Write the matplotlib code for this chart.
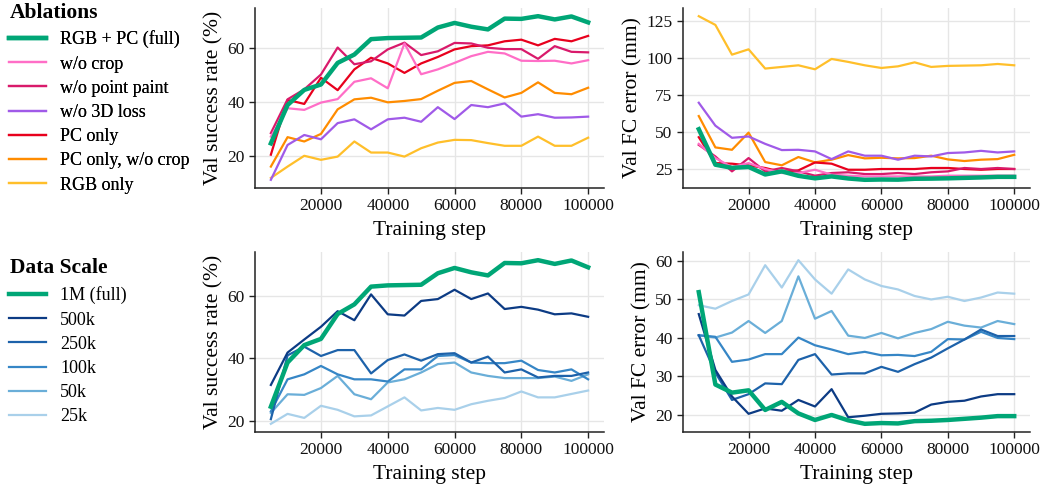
import matplotlib
matplotlib.use("Agg")
import matplotlib.pyplot as plt
from matplotlib.lines import Line2D

plt.rcParams['font.family'] = ['Liberation Serif', 'DejaVu Serif']

steps = [5000, 10000, 15000, 20000, 25000, 30000, 35000, 40000, 45000, 50000,
         55000, 60000, 65000, 70000, 75000, 80000, 85000, 90000, 95000, 100000]

# ---- Ablations: success rate (%) ----
sr_full = [24.5, 38.7, 44.3, 46.3, 54.3, 57.4, 63.1, 63.5, 63.6, 63.7, 67.4, 69.1, 67.7, 66.7, 70.7, 70.6, 71.6, 70.4, 71.5, 69.3]
sr_wo_crop = [27.0, 37.5, 36.9, 39.6, 40.9, 47.3, 48.6, 44.9, 61.5, 50.1, 51.9, 54.3, 56.8, 58.4, 57.8, 55.1, 55.0, 55.1, 54.1, 55.3]
sr_wo_pp = [28.3, 40.8, 44.5, 50.0, 60.0, 53.8, 54.9, 59.3, 61.8, 57.2, 58.6, 61.7, 61.5, 59.9, 59.4, 59.4, 55.8, 60.5, 58.4, 58.2]
sr_wo_3d = [11.0, 23.9, 27.6, 26.0, 32.0, 33.4, 29.7, 33.4, 34.0, 32.5, 37.9, 33.5, 38.7, 37.9, 39.3, 34.4, 35.3, 34.0, 34.1, 34.4]
sr_pc_only = [20.3, 40.6, 39.1, 48.8, 44.2, 51.9, 56.2, 54.1, 50.6, 54.1, 56.5, 59.3, 60.5, 60.8, 62.3, 62.9, 60.8, 63.2, 62.3, 64.3]
sr_pc_wo_crop = [15.9, 26.8, 25.2, 28.0, 37.1, 40.8, 41.4, 39.7, 40.2, 40.9, 44.0, 46.9, 47.6, 44.5, 41.5, 43.2, 47.1, 43.2, 42.7, 45.1]
sr_rgb_only = [11.7, 15.9, 19.9, 18.4, 19.6, 25.2, 21.1, 21.1, 19.6, 22.7, 24.8, 25.8, 25.7, 24.6, 23.6, 23.6, 27.0, 23.6, 23.6, 26.6]

# ---- Ablations: FC error (mm) ----
fc_full = [51.9, 27.9, 25.8, 26.4, 21.3, 23.4, 20.4, 18.7, 20.0, 18.6, 17.7, 17.9, 17.8, 18.4, 18.5, 18.7, 19.0, 19.3, 19.7, 19.7]
fc_wo_crop = [42.0, 32.4, 26.3, 29.0, 25.0, 22.3, 22.3, 24.5, 21.2, 20.5, 20.0, 20.0, 20.0, 20.0, 20.0, 20.5, 20.5, 20.5, 20.5, 20.5]
fc_wo_pp = [41.3, 33.5, 23.4, 32.4, 23.4, 25.7, 23.4, 20.5, 22.3, 22.8, 21.6, 21.6, 22.3, 21.6, 22.8, 23.4, 25.7, 25.0, 25.7, 25.0]
fc_wo_3d = [69.8, 54.3, 46.1, 47.0, 42.0, 37.8, 38.0, 36.9, 31.7, 36.9, 34.0, 34.0, 31.3, 34.0, 33.5, 35.8, 36.2, 37.3, 36.2, 36.9]
fc_pc_only = [46.5, 29.0, 28.6, 27.4, 25.7, 23.0, 24.1, 29.4, 28.6, 24.5, 24.5, 25.0, 25.0, 25.0, 25.7, 25.7, 25.0, 24.5, 25.0, 25.0]
fc_pc_wo_crop = [60.8, 39.6, 38.0, 49.6, 29.7, 27.5, 33.1, 29.5, 31.3, 34.4, 32.2, 32.6, 32.2, 32.4, 34.0, 31.5, 30.4, 31.3, 31.7, 34.6]
fc_rgb_only = [128.3, 122.4, 102.3, 105.9, 92.9, 94.0, 95.1, 92.4, 99.4, 97.4, 95.1, 93.3, 94.4, 97.1, 94.0, 94.7, 94.9, 95.1, 96.0, 95.1]

# ---- Data scale: success rate (%) ----
sr_500k = [31.5, 41.9, 46.1, 50.2, 55.2, 52.3, 60.6, 54.2, 53.8, 58.5, 59.1, 62.1, 59.1, 60.9, 55.9, 56.6, 55.7, 54.2, 54.5, 53.4]
sr_250k = [20.5, 41.0, 43.8, 40.8, 42.7, 42.7, 35.2, 39.5, 41.3, 39.3, 41.4, 41.7, 38.7, 40.6, 35.5, 36.5, 33.9, 34.4, 34.4, 35.5]
sr_100k = [23.0, 33.3, 34.9, 37.6, 34.9, 33.3, 33.3, 32.6, 36.5, 36.5, 40.8, 41.1, 38.7, 38.5, 38.5, 39.3, 36.3, 35.5, 36.5, 33.3]
sr_50k = [22.5, 28.5, 28.3, 30.5, 34.4, 28.5, 26.9, 32.3, 33.3, 35.5, 38.2, 38.7, 35.5, 34.4, 33.7, 33.7, 33.7, 34.2, 32.8, 34.9]
sr_25k = [19.0, 22.2, 20.9, 24.8, 23.5, 21.4, 21.7, 24.6, 27.5, 23.3, 24.1, 23.5, 25.3, 26.4, 27.3, 29.4, 27.5, 27.5, 28.6, 29.7]

# ---- Data scale: FC error (mm) ----
fc_500k = [46.2, 31.7, 24.8, 20.3, 21.7, 21.1, 23.9, 22.2, 26.7, 19.4, 19.8, 20.3, 20.4, 20.6, 22.7, 23.4, 23.7, 24.8, 25.4, 25.4]
fc_250k = [40.7, 31.0, 23.9, 25.4, 28.2, 28.0, 34.3, 35.8, 30.5, 30.8, 30.8, 32.5, 31.2, 33.2, 34.9, 37.3, 39.6, 42.2, 40.5, 40.5]
fc_100k = [40.7, 40.3, 33.8, 34.4, 35.8, 35.8, 40.1, 38.1, 37.0, 35.8, 36.4, 35.5, 35.6, 35.3, 36.4, 39.7, 39.6, 41.6, 40.0, 39.7]
fc_50k = [40.7, 40.1, 41.4, 44.4, 41.3, 44.4, 56.0, 45.0, 47.0, 40.6, 40.0, 41.3, 39.9, 41.3, 42.3, 44.2, 43.2, 42.7, 44.4, 43.6]
fc_25k = [48.5, 47.6, 49.6, 51.3, 58.9, 53.1, 60.2, 55.2, 51.5, 57.8, 55.2, 53.5, 52.6, 50.9, 50.0, 50.7, 49.6, 50.5, 51.8, 51.5]

abl_labels = ["RGB + PC (full)", "w/o crop", "w/o point paint", "w/o 3D loss",
              "PC only", "PC only, w/o crop", "RGB only"]
abl_colors = ["#00a676", "#ff6ec7", "#d91a6b", "#a05ae8", "#e8001d", "#ff8c00", "#ffbf2a"]
scale_labels = ["1M (full)", "500k", "250k", "100k", "50k", "25k"]
scale_colors = ["#00a676", "#0c3b84", "#1d62aa", "#3686c6", "#6aaed8", "#a9d0ea"]

abl_sr = [sr_full, sr_wo_crop, sr_wo_pp, sr_wo_3d, sr_pc_only, sr_pc_wo_crop, sr_rgb_only]
abl_fc = [fc_full, fc_wo_crop, fc_wo_pp, fc_wo_3d, fc_pc_only, fc_pc_wo_crop, fc_rgb_only]
scl_sr = [sr_full, sr_500k, sr_250k, sr_100k, sr_50k, sr_25k]
scl_fc = [fc_full, fc_500k, fc_250k, fc_100k, fc_50k, fc_25k]

fig = plt.figure(figsize=(10.44, 4.84), dpi=100)
W, H = 1044, 484

def mkax(l, t, r, b):
    return fig.add_axes([l / W, 1 - b / H, (r - l) / W, (b - t) / H])

ax_tl = mkax(255, 8, 604, 188)
ax_tr = mkax(683, 8, 1030, 188)
ax_bl = mkax(255, 252, 604, 432)
ax_br = mkax(683, 252, 1030, 432)

def style(ax, ylabel, yticks):
    ax.grid(True, color="#e6e6e6", linewidth=1.0)
    ax.set_axisbelow(True)
    for s in ["top", "right"]:
        ax.spines[s].set_visible(False)
    for s in ["left", "bottom"]:
        ax.spines[s].set_color("#222222")
        ax.spines[s].set_linewidth(1.1)
    ax.tick_params(axis="both", direction="out", length=4, width=1.0,
                   labelsize=12.5, colors="#222222", labelcolor="#111111")
    ax.set_xticks([20000, 40000, 60000, 80000, 100000])
    ax.set_yticks(yticks)
    ax.set_xlabel("Training step", fontsize=15.5, labelpad=5)
    ax.set_ylabel(ylabel, fontsize=15.5, labelpad=3)

def draw(ax, series, colors):
    for i in range(len(series) - 1, -1, -1):
        lw = 3.2 if i == 0 else 1.6
        ax.plot(steps, series[i], color=colors[i], linewidth=lw,
                zorder=10 if i == 0 else 3 + (len(series) - i) * 0.1)

draw(ax_tl, abl_sr, abl_colors)
draw(ax_tr, abl_fc, abl_colors)
draw(ax_bl, scl_sr, scale_colors)
draw(ax_br, scl_fc, scale_colors)

style(ax_tl, "Val success rate (%)", [20, 40, 60])
style(ax_tr, "Val FC error (mm)", [25, 50, 75, 100, 125])
style(ax_bl, "Val success rate (%)", [20, 40, 60])
style(ax_br, "Val FC error (mm)", [20, 30, 40, 50, 60])

def legend(labels, colors, y):
    handles = [Line2D([], [], color=c, linewidth=(3.2 if i == 0 else 1.6))
               for i, c in enumerate(colors)]
    lg = fig.legend(handles, labels, loc="upper left", bbox_to_anchor=(0.003, y),
                    frameon=False, fontsize=13, handlelength=2.05,
                    handletextpad=0.8, labelspacing=0.40, borderaxespad=0.0,
                    borderpad=0.3, alignment="left")
    return lg

fig.text(10 / W, 1 - 13 / H, "Ablations", fontsize=15.5, fontweight="bold",
         va="center", ha="left")
fig.text(10 / W, 1 - 268 / H, "Data Scale", fontsize=15.5, fontweight="bold",
         va="center", ha="left")
lg1 = legend(abl_labels, abl_colors, 1 - 25 / H)
lg2 = legend(scale_labels, scale_colors, 1 - 281 / H)
fig.add_artist(lg1)

fig.savefig("out.png", dpi=100)
